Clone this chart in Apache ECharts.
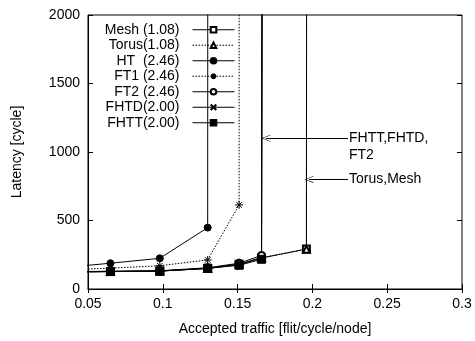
<!DOCTYPE html>
<html>
<head>
<meta charset="utf-8">
<script src="https://cdn.jsdelivr.net/npm/echarts@6/dist/echarts.min.js"></script>
<style>
html, body { margin: 0; padding: 0; background: #fff; }
#chart { width: 475px; height: 341px; }
</style>
</head>
<body>
<div id="chart"></div>
<script>
// accepted traffic where each run was measured (first one lies left of the plot)
var xs = [0.03, 0.065, 0.098, 0.13, 0.151, 0.166, 0.196];

var names = ['Mesh (1.08)', 'Torus(1.08)', 'HT  (2.46)', 'FT1 (2.46)', 'FT2 (2.46)', 'FHTD(2.00)', 'FHTT(2.00)'];
var mesh  = [125, 128, 132, 150, 180, 226, 292];
var torus = [124, 127, 131, 150, 182, 229, 290];
var ht    = [153, 188, 224, 448];
var ft1   = [140, 152, 170, 212, 614];
var ft2   = [125, 130, 133, 155, 188, 245];
var fhtd  = [123, 128, 131, 150, 178, 230];
var fhtt  = [122, 127, 130, 152, 173, 217];
// where latency blows up (saturation)
var satX = [0.1965, 0.1965, 0.1302, 0.1512, 0.168, 0.1675, 0.167];
var satY = 9000;

var xTickLabels = ['0.05', '0.1', '0.15', '0.2', '0.25', '0.3'];
var yTickLabels = ['0', '500', '1000', '1500', '2000'];

// annotation arrows
var arrowFromX = 0.2238;
var arrowToX = [0.169, 0.1977];
var arrowY = [1100, 800];
var arrowText = ['FHTT,FHTD,\nFT2', 'Torus,Mesh'];

var FONT = 'Liberation Sans';
var starPath = 'path://M0,5L10,5M5,0L5,10M1.5,1.5L8.5,8.5M8.5,1.5L1.5,8.5';
var crossPath = 'path://M0,0L10,10M10,0L0,10';
var vPath = 'path://M0,10L5,0L10,10L9.2,10L5,1.6L0.8,10Z';

function pts(vals, sx) {
    var d = [];
    for (var i = 0; i < vals.length; i++) d.push([xs[i], vals[i]]);
    d.push([sx, satY]);
    return d;
}

var allVals = [mesh, torus, ht, ft1, ft2, fhtd, fhtt];
var symbols = ['emptyRect', 'emptyTriangle', 'circle', starPath, 'emptyCircle', crossPath, 'rect'];
var sizes = [7, 7, 7, 8, 7, 6, 8];
var dashed = [false, true, false, true, false, false, false];

var series = [];
for (var k = 0; k < names.length; k++) {
    var s = {
        name: names[k],
        type: 'line',
        data: pts(allVals[k], satX[k]),
        symbol: symbols[k],
        symbolSize: sizes[k],
        showAllSymbol: true,
        clip: true,
        lineStyle: { color: '#000', width: 1, type: dashed[k] ? [1.5, 1.5] : 'solid' },
        itemStyle: { color: '#000', borderColor: '#000', borderWidth: 1 },
        emphasis: { disabled: true },
        animation: false
    };
    series.push(s);
}

// arrows + text go on the first series
series[0].markLine = {
    silent: true,
    animation: false,
    symbol: ['none', vPath],
    symbolSize: [7, 9],
    lineStyle: { color: '#000', width: 1, type: 'solid' },
    label: { show: false },
    data: arrowY.map(function (y, i) {
        return [{ coord: [arrowFromX, y] }, { coord: [arrowToX[i], y] }];
    })
};
series[0].markPoint = {
    silent: true,
    animation: false,
    symbol: 'circle',
    symbolSize: 0,
    label: {
        show: true, position: 'right', distance: 1,
        verticalAlign: 'top', offset: [0, -8.5], lineHeight: 17,
        color: '#000', fontFamily: FONT, fontSize: 14,
        formatter: function (p) { return p.name; }
    },
    data: arrowY.map(function (y, i) {
        return { name: arrowText[i], coord: [arrowFromX, y] };
    })
};

var chart = echarts.init(document.getElementById('chart'));
chart.setOption({
    animation: false,
    backgroundColor: '#fff',
    textStyle: { fontFamily: FONT, color: '#000' },
    grid: { left: 88, right: 13, top: 15, bottom: 49, show: true, borderColor: '#000', borderWidth: 1 },
    legend: {
        data: names,
        orient: 'vertical',
        align: 'right',
        right: 240,
        top: 22,
        padding: 0,
        itemWidth: 42,
        itemHeight: 7,
        itemGap: 0,
        selectedMode: false,
        lineStyle: { width: 1 },
        textStyle: { fontFamily: FONT, fontSize: 14, color: '#000', width: 84, align: 'right', lineHeight: 15.5, padding: [0, 8, 0, 0] }
    },
    xAxis: [{
        type: 'value', min: 0.05, max: 0.3, interval: 0.05,
        name: 'Accepted traffic [flit/cycle/node]', nameLocation: 'middle', nameGap: 33,
        nameTextStyle: { fontFamily: FONT, fontSize: 14, color: '#000' },
        axisLine: { lineStyle: { color: '#000' } },
        axisTick: { inside: true, length: 5, lineStyle: { color: '#000' } },
        splitLine: { show: false },
        axisLabel: {
            fontFamily: FONT, fontSize: 14, color: '#000', margin: 8,
            formatter: function (v) { return xTickLabels[Math.round((v - 0.05) / 0.05)]; }
        }
    }, {
        type: 'value', min: 0.05, max: 0.3, interval: 0.05, position: 'top',
        axisLine: { show: false },
        axisTick: { inside: true, length: 4, lineStyle: { color: '#000' } },
        splitLine: { show: false },
        axisLabel: { show: false }
    }],
    yAxis: [{
        type: 'value', min: 0, max: 2000, interval: 500,
        name: 'Latency [cycle]', nameLocation: 'middle', nameGap: 64,
        nameTextStyle: { fontFamily: FONT, fontSize: 14, color: '#000' },
        axisLine: { show: true, lineStyle: { color: '#000' } },
        axisTick: { show: true, inside: true, length: 5, lineStyle: { color: '#000' } },
        splitLine: { show: false },
        axisLabel: {
            fontFamily: FONT, fontSize: 14, color: '#000', margin: 8,
            formatter: function (v) { return yTickLabels[Math.round(v / 500)]; }
        }
    }, {
        type: 'value', min: 0, max: 2000, interval: 500, position: 'right',
        axisLine: { show: false },
        axisTick: { show: true, inside: true, length: 5, lineStyle: { color: '#000' } },
        splitLine: { show: false },
        axisLabel: { show: false }
    }],
    series: series
});
</script>
</body>
</html>
